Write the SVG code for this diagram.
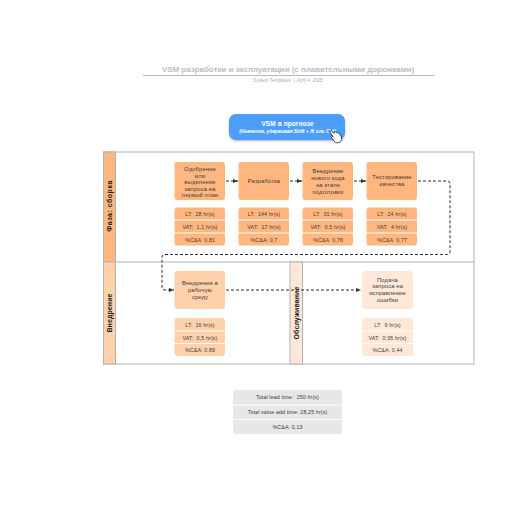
<svg xmlns="http://www.w3.org/2000/svg" width="516" height="516" viewBox="0 0 516 516">
<defs>
<marker id="arr" markerUnits="userSpaceOnUse" markerWidth="7" markerHeight="6" refX="5" refY="3" orient="auto"><path d="M0 1L5 3L0 5z" fill="#333"/></marker>
<filter id="sh" x="-10%" y="-20%" width="120%" height="140%"><feDropShadow dx="0" dy="1" stdDeviation="1" flood-color="#000" flood-opacity=".3"/></filter>
</defs>
<style>
text{font-family:"Liberation Sans",Arial,sans-serif;text-anchor:middle;white-space:pre}
.title{font-size:7.950px;font-weight:700;fill:#b9bcc9}
.sub{font-size:4.600px;fill:#a9adb8}
.n{font-size:5.800px;fill:#3a3a3a;letter-spacing:.15px}
.m{font-size:5.300px;fill:#3a3a3a;letter-spacing:.12px}
.lane{font-size:7px;font-weight:700;fill:#222;letter-spacing:.1px}
.c{fill:none;stroke:#2b2b2b;stroke-width:1;stroke-dasharray:3 2;marker-end:url(#arr)}
.b{stroke:#b3b3b3;stroke-width:1;fill:#fff}
.o1{fill:#ffb77f}.o2{fill:#ffd1ab}.o3{fill:#ffe8d8}.g{fill:#e7e7e7}
.w{stroke:#fff;stroke-width:1}
</style>
<g id="header">
<text class="title" x="288" y="72">VSM разработки и эксплуатации (с плавательными дорожками)</text>
<line x1="143" y1="75.500" x2="435" y2="75.500" stroke="#b4b8c6"/>
<text class="sub" x="288" y="81.500">System Templates  |  April 4, 2025</text>
</g>
<g id="button">
<rect x="229" y="114" width="116" height="26" rx="7" fill="#4d9efc" filter="url(#sh)"/>
<text x="287.500" y="126" font-size="6.500" font-weight="700" fill="#fff" letter-spacing=".1">VSM в прогнозе</text>
<text x="287.500" y="132.500" font-size="4.800" font-weight="700" font-style="italic" fill="#fff">(Нажмите, удерживая Shift + Ж или Ctrl)</text>
<path d="M329.500 131.500l1.800-.7 2.700 2.500.5-1.800 1 .2 1.300 1.200.5-.5 2.700 1.800 1.300 2.700.4 3-2.200 2.800h-4l-2.200-2.700-2.700-3.600.9-.7 1.800 1.300z" fill="#fff" stroke="#222" stroke-width=".8"/>
</g>
<g id="pool">
<rect class="b" x="103.500" y="152" width="370.500" height="212"/>
<line class="b" x1="103.500" y1="262" x2="474" y2="262"/>
<rect class="b" style="fill:#ffb77f" x="103.500" y="152" width="12" height="110"/>
<rect class="b" style="fill:#ffd1ab" x="103.500" y="262" width="12" height="102"/>
<rect class="b" style="fill:#ffe8d8" x="290" y="262" width="12.500" height="102"/>
<text class="lane" style="letter-spacing:.5px" transform="translate(112,206) rotate(-90)">Фаза: сборка</text>
<text class="lane" transform="translate(112,313) rotate(-90)">Внедрение</text>
<text class="lane" transform="translate(299,313) rotate(-90)">Обслуживание</text>
</g>
<g id="connectors">
<path class="c" d="M226 181H238"/>
<path class="c" d="M290 181H302"/>
<path class="c" d="M354 181H366"/>
<path class="c" d="M418 181H447Q450 181 450 184V251.500Q450 254.500 447 254.500H165Q162 254.500 162 257.500V287Q162 290 165 290H174"/>
<path class="c" d="M226 290H361"/>
</g>
<g id="n1">
<rect class="o1" x="174.500" y="162" width="50.500" height="38" rx="3"/>
<text class="n"><tspan x="200" y="171">Одобрение</tspan><tspan x="200" y="177.500">или</tspan><tspan x="200" y="184">выделение</tspan><tspan x="200" y="190.500">запроса на</tspan><tspan x="200" y="197">первый план</tspan></text>
<rect class="o1" x="174.500" y="207.500" width="50.500" height="38" rx="3"/>
<line class="w" x1="174.500" y1="220" x2="225" y2="220"/><line class="w" x1="174.500" y1="233" x2="225" y2="233"/>
<text class="m" x="200" y="215.800">LT:  28 hr(s)</text><text class="m" x="200" y="228.500">VAT:  1,1 hr(s)</text><text class="m" x="200" y="241.500">%C&amp;A: 0,81</text>
</g>
<g id="n2">
<rect class="o1" x="238.500" y="162" width="50.500" height="38" rx="3"/>
<text class="n" x="264" y="183">Разработка</text>
<rect class="o1" x="238.500" y="207.500" width="50.500" height="38" rx="3"/>
<line class="w" x1="238.500" y1="220" x2="289" y2="220"/><line class="w" x1="238.500" y1="233" x2="289" y2="233"/>
<text class="m" x="264" y="215.800">LT:  144 hr(s)</text><text class="m" x="264" y="228.500">VAT:  17 hr(s)</text><text class="m" x="264" y="241.500">%C&amp;A: 0,7</text>
</g>
<g id="n3">
<rect class="o1" x="302.500" y="162" width="50.500" height="38" rx="3"/>
<text class="n"><tspan x="328" y="173">Внедрение</tspan><tspan x="328" y="180">нового кода</tspan><tspan x="328" y="187">на этапе</tspan><tspan x="328" y="194">подготовки</tspan></text>
<rect class="o1" x="302.500" y="207.500" width="50.500" height="38" rx="3"/>
<line class="w" x1="302.500" y1="220" x2="353" y2="220"/><line class="w" x1="302.500" y1="233" x2="353" y2="233"/>
<text class="m" x="328" y="215.800">LT:  31 hr(s)</text><text class="m" x="328" y="228.500">VAT:  0,5 hr(s)</text><text class="m" x="328" y="241.500">%C&amp;A: 0,76</text>
</g>
<g id="n4">
<rect class="o1" x="366.500" y="162" width="50.500" height="38" rx="3"/>
<text class="n"><tspan x="392" y="179">Тестирование</tspan><tspan x="392" y="186">качества</tspan></text>
<rect class="o1" x="366.500" y="207.500" width="50.500" height="38" rx="3"/>
<line class="w" x1="366.500" y1="220" x2="417" y2="220"/><line class="w" x1="366.500" y1="233" x2="417" y2="233"/>
<text class="m" x="392" y="215.800">LT:  24 hr(s)</text><text class="m" x="392" y="228.500">VAT:  4 hr(s)</text><text class="m" x="392" y="241.500">%C&amp;A: 0,77</text>
</g>
<g id="n5">
<rect class="o2" x="174.500" y="271" width="50.500" height="38" rx="3"/>
<text class="n"><tspan x="200" y="285">Внедрение в</tspan><tspan x="200" y="292">рабочую</tspan><tspan x="200" y="299">среду</tspan></text>
<rect class="o2" x="174.500" y="318" width="50.500" height="38" rx="3"/>
<line class="w" x1="174.500" y1="331" x2="225" y2="331"/><line class="w" x1="174.500" y1="343.500" x2="225" y2="343.500"/>
<text class="m" x="200" y="326.500">LT:  16 hr(s)</text><text class="m" x="200" y="339.500">VAT:  0,5 hr(s)</text><text class="m" x="200" y="352">%C&amp;A: 0,89</text>
</g>
<g id="n6">
<rect class="o3" x="362" y="271" width="51" height="38" rx="3"/>
<text class="n"><tspan x="387.500" y="281.500">Подача</tspan><tspan x="387.500" y="288">запроса на</tspan><tspan x="387.500" y="295">исправление</tspan><tspan x="387.500" y="302">ошибки</tspan></text>
<rect class="o3" x="362" y="318" width="51" height="38" rx="3"/>
<line class="w" x1="362" y1="331" x2="413" y2="331"/><line class="w" x1="362" y1="343.500" x2="413" y2="343.500"/>
<text class="m" x="387.500" y="326.500">LT:  9 hr(s)</text><text class="m" x="387.500" y="339.500">VAT:  0,95 hr(s)</text><text class="m" x="387.500" y="352">%C&amp;A: 0,44</text>
</g>
<g id="totals">
<rect class="g" x="233" y="390" width="109" height="44" rx="3"/>
<line class="w" x1="233" y1="405" x2="342" y2="405"/><line class="w" x1="233" y1="419.500" x2="342" y2="419.500"/>
<text class="m" x="287.500" y="399">Total lead time:  250 hr(s)</text><text class="m" x="287.500" y="413.500">Total value add time: 28,25 hr(s)</text><text class="m" x="287.500" y="428.500">%C&amp;A: 0,13</text>
</g>
</svg>
